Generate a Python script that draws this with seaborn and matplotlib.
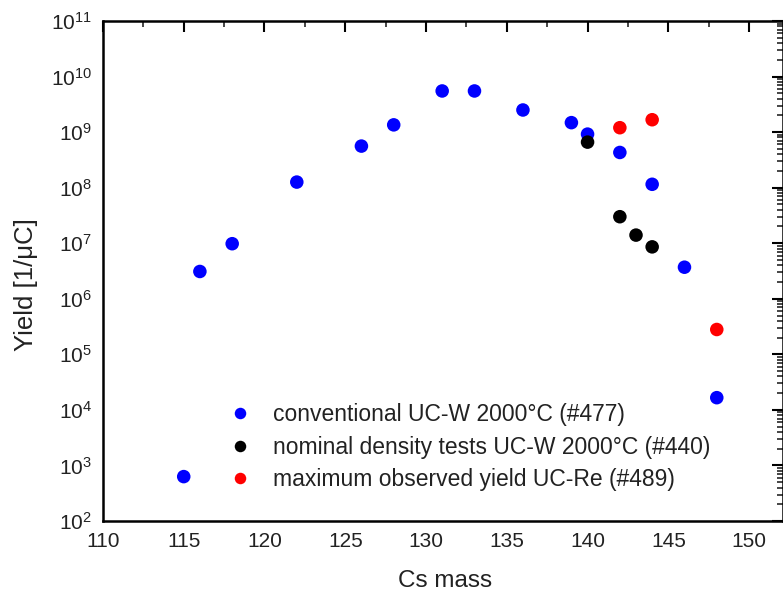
import numpy as np
import pandas as pd
import matplotlib
matplotlib.use("Agg")
import matplotlib.pyplot as plt
import seaborn as sns
from matplotlib.ticker import LogLocator, MultipleLocator, NullFormatter

# Data
conv_mass = [115, 116, 118, 122, 126, 128, 131, 133, 136, 139, 140, 142, 144, 146, 148]
conv_yield = [6.3e2, 3.1e6, 9.8e6, 1.26e8, 5.6e8, 1.35e9, 5.5e9, 5.5e9, 2.5e9, 1.48e9,
              9.2e8, 4.3e8, 1.15e8, 3.7e6, 1.66e4]
nom_mass = [140, 142, 143, 144]
nom_yield = [6.6e8, 3.0e7, 1.4e7, 8.6e6]
max_mass = [142, 144, 148]
max_yield = [1.2e9, 1.67e9, 2.8e5]

labels = ["conventional UC-W 2000°C (#477)",
          "nominal density tests UC-W 2000°C (#440)",
          "maximum observed yield UC-Re (#489)"]
colors = ["#0000ff", "#000000", "#ff0000"]

df = pd.DataFrame({
    "mass": conv_mass + nom_mass + max_mass,
    "yield": conv_yield + nom_yield + max_yield,
    "series": [labels[0]] * len(conv_mass) + [labels[1]] * len(nom_mass) + [labels[2]] * len(max_mass),
})

sns.set_style("white")
plt.rcParams["font.family"] = ["Liberation Sans", "DejaVu Sans"]
plt.rcParams["mathtext.fontset"] = "custom"
plt.rcParams["mathtext.rm"] = "Liberation Sans"
plt.rcParams["mathtext.it"] = "Liberation Sans:italic"

fig = plt.figure(figsize=(7.83, 5.96), dpi=100)
ax = fig.add_axes([0.1315, 0.1258, 0.8685, 0.839])

sns.scatterplot(data=df, x="mass", y="yield", hue="series", palette=colors,
                hue_order=labels, s=95, linewidth=0, ax=ax, legend=True)

ax.set_yscale("log")
ax.set_xlim(110, 152.1)
ax.set_ylim(1e2, 1e11)

ax.xaxis.set_major_locator(MultipleLocator(5))
ax.xaxis.set_minor_locator(MultipleLocator(2.5))
ax.yaxis.set_major_locator(LogLocator(base=10, numticks=20))
ax.yaxis.set_minor_locator(LogLocator(base=10, subs=np.arange(2, 10), numticks=20))
ax.yaxis.set_minor_formatter(NullFormatter())

ax.tick_params(which="major", direction="in", length=8, width=1.5,
               top=True, right=True, labelsize=15, colors="#000000",
               labelcolor="#222222", pad=8)
ax.tick_params(which="minor", direction="in", length=4, width=1.2,
               top=True, right=True)

for sp in ax.spines.values():
    sp.set_linewidth(1.8)
    sp.set_color("black")

ax.set_xlabel("Cs mass", fontsize=17.5, color="#222222", va="center")
ax.xaxis.set_label_coords((445 - 103) / (783 - 103), -0.12)
ax.set_ylabel("Yield [1/μC]", fontsize=18.5, color="#222222", va="center")
ax.yaxis.set_label_coords(-(103 - 26) / (783 - 103), (521 - 285) / 500)

leg = ax.legend(loc="upper left", bbox_to_anchor=(0.277, 0.324), bbox_transform=fig.transFigure,
                frameon=False, fontsize=16.5, handletextpad=0.44, labelspacing=0.42,
                markerscale=0.85, borderaxespad=0, borderpad=0, handlelength=2.0)
for t in leg.get_texts():
    t.set_color("#222222")

fig.savefig("out.png", dpi=100)
